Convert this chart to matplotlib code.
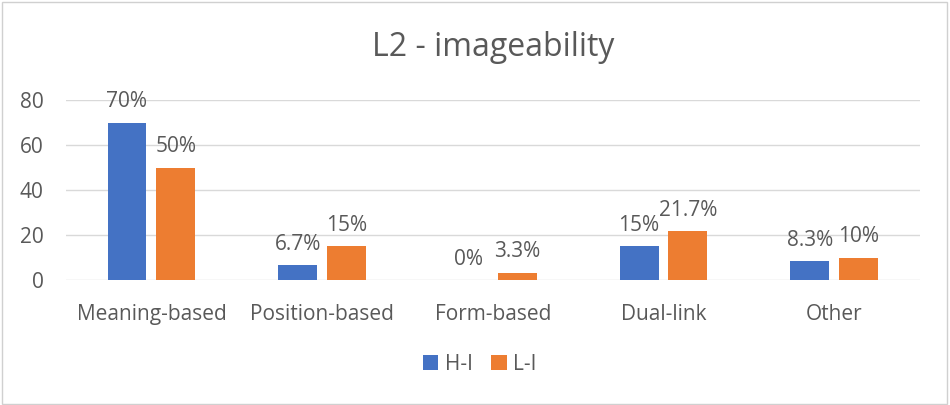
import numpy as np
import matplotlib
matplotlib.use("Agg")
from matplotlib import pyplot as plt
from matplotlib.patches import Rectangle

plt.rcParams['font.family'] = ['Open Sans', 'DejaVu Sans']

# ====
# Data
categories = ["Meaning-based", "Position-based", "Form-based", "Dual-link", "Other"]
hi_values = [70, 6.7, 0, 15, 8.3]
li_values = [50, 15, 3.3, 21.7, 10]
hi_labels = ["70%", "6.7%", "0%", "15%", "8.3%"]
li_labels = ["50%", "15%", "3.3%", "21.7%", "10%"]
y_ticks = [0, 20, 40, 60, 80]

blue = "#4472C4"
orange = "#ED7D31"
text_col = "#595959"
grid_col = "#D9D9D9"

fig = plt.figure(figsize=(9.5, 4.05), dpi=100)
fig.patches.append(Rectangle((0.002, 0.003), 0.995, 0.993, transform=fig.transFigure,
                             fill=False, edgecolor="#D0D0D0", linewidth=1))
ax = fig.add_axes([0.0695, 0.3086, 0.8985, 0.4444])

x = np.arange(len(categories))
w = 0.228
gap = 0.058
off = (w + gap) / 2
b1 = ax.bar(x - off, hi_values, w, color=blue, label="H-I", zorder=3)
b2 = ax.bar(x + off, li_values, w, color=orange, label="L-I", zorder=3)

for bars, labels in ((b1, hi_labels), (b2, li_labels)):
    for bar, lab in zip(bars, labels):
        ax.text(bar.get_x() + bar.get_width() / 2, bar.get_height() + 4.6, lab,
                ha="center", va="bottom", fontsize=15, color=text_col)

ax.set_xlim(-0.5, len(categories) - 0.5)
ax.set_ylim(0, 80)
ax.set_yticks(y_ticks)
ax.set_xticks(x)
ax.set_xticklabels(categories)
ax.tick_params(axis="both", length=0, labelsize=15, labelcolor=text_col)
ax.tick_params(axis="x", pad=17)
ax.tick_params(axis="y", pad=16)
ax.grid(axis="y", color=grid_col, linewidth=1, zorder=0)
for s in ax.spines.values():
    s.set_visible(False)

ax.set_title("L2 - imageability", fontsize=23, color=text_col, pad=32)

fig.legend(handles=[b1, b2], loc="center", bbox_to_anchor=(0.505, 0.101), ncol=2,
           frameon=False, fontsize=15, labelcolor=text_col, handlelength=0.75,
           handleheight=0.75, handletextpad=0.3, columnspacing=0.9)

fig.savefig("out.png", dpi=100)
